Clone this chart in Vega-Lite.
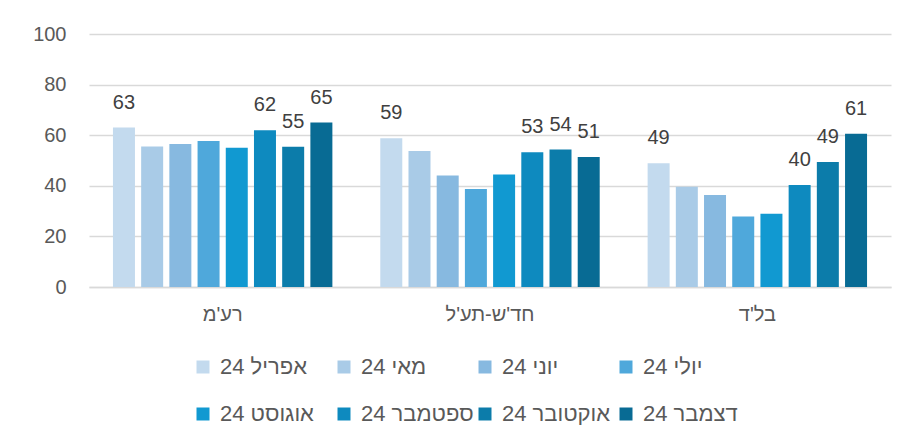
{
  "$schema": "https://vega.github.io/schema/vega-lite/v6.json",
  "width": 802,
  "height": 253,
  "autosize": "none",
  "padding": {"left": 89, "top": 34, "right": 21, "bottom": 158},
  "background": "white",
  "config": {
    "font": "Liberation Sans",
    "view": {"stroke": null},
    "axis": {"labelFont": "Liberation Sans", "labelColor": "#595959", "labelFontSize": 20}
  },
  "data": {
    "values": [
      {"party": "רע'מ", "month": "24 אפריל", "value": 63, "lbl": 63},
      {"party": "רע'מ", "month": "24 מאי", "value": 55.5, "lbl": null},
      {"party": "רע'מ", "month": "24 יוני", "value": 56.5, "lbl": null},
      {"party": "רע'מ", "month": "24 יולי", "value": 57.7, "lbl": null},
      {"party": "רע'מ", "month": "24 אוגוסט", "value": 55, "lbl": null},
      {"party": "רע'מ", "month": "24 ספטמבר", "value": 62, "lbl": 62},
      {"party": "רע'מ", "month": "24 אוקטובר", "value": 55.4, "lbl": 55},
      {"party": "רע'מ", "month": "24 דצמבר", "value": 65, "lbl": 65},
      {"party": "חד'ש-תע'ל", "month": "24 אפריל", "value": 58.8, "lbl": 59},
      {"party": "חד'ש-תע'ל", "month": "24 מאי", "value": 53.8, "lbl": null},
      {"party": "חד'ש-תע'ל", "month": "24 יוני", "value": 44.1, "lbl": null},
      {"party": "חד'ש-תע'ל", "month": "24 יולי", "value": 38.7, "lbl": null},
      {"party": "חד'ש-תע'ל", "month": "24 אוגוסט", "value": 44.5, "lbl": null},
      {"party": "חד'ש-תע'ל", "month": "24 ספטמבר", "value": 53.3, "lbl": 53},
      {"party": "חד'ש-תע'ל", "month": "24 אוקטובר", "value": 54.3, "lbl": 54},
      {"party": "חד'ש-תע'ל", "month": "24 דצמבר", "value": 51.4, "lbl": 51},
      {"party": "בל'ד", "month": "24 אפריל", "value": 48.9, "lbl": 49},
      {"party": "בל'ד", "month": "24 מאי", "value": 39.6, "lbl": null},
      {"party": "בל'ד", "month": "24 יוני", "value": 36.4, "lbl": null},
      {"party": "בל'ד", "month": "24 יולי", "value": 27.9, "lbl": null},
      {"party": "בל'ד", "month": "24 אוגוסט", "value": 29, "lbl": null},
      {"party": "בל'ד", "month": "24 ספטמבר", "value": 40.3, "lbl": 40},
      {"party": "בל'ד", "month": "24 אוקטובר", "value": 49.4, "lbl": 49},
      {"party": "בל'ד", "month": "24 דצמבר", "value": 60.6, "lbl": 61}
    ]
  },
  "encoding": {
    "x": {
      "field": "party",
      "type": "nominal",
      "sort": ["רע'מ", "חד'ש-תע'ל", "בל'ד"],
      "scale": {"paddingInner": 0.156, "paddingOuter": 0.078},
      "axis": {"title": null, "labelAngle": 0, "ticks": false, "domain": true, "domainColor": "#d9d9d9", "domainWidth": 1.5, "labelPadding": 17}
    },
    "xOffset": {
      "field": "month",
      "type": "nominal",
      "sort": ["24 אפריל", "24 מאי", "24 יוני", "24 יולי", "24 אוגוסט", "24 ספטמבר", "24 אוקטובר", "24 דצמבר"],
      "scale": {"paddingInner": 0.22, "paddingOuter": 0.11}
    },
    "y": {
      "field": "value",
      "type": "quantitative",
      "scale": {"domain": [0, 100], "nice": false},
      "axis": {"title": null, "values": [0, 20, 40, 60, 80, 100], "domain": false, "ticks": false, "gridColor": "#d9d9d9", "gridWidth": 1.5, "labelPadding": 23}
    }
  },
  "layer": [
    {
      "mark": {"type": "bar"},
      "encoding": {
        "color": {
          "field": "month",
          "type": "nominal",
          "sort": ["24 אפריל", "24 מאי", "24 יוני", "24 יולי", "24 אוגוסט", "24 ספטמבר", "24 אוקטובר", "24 דצמבר"],
          "scale": {
            "domain": ["24 אפריל", "24 מאי", "24 יוני", "24 יולי", "24 אוגוסט", "24 ספטמבר", "24 אוקטובר", "24 דצמבר"],
            "range": ["#C3DAEE", "#A9CBE7", "#87B9E0", "#4FA8DB", "#1199D1", "#0E8ABF", "#0C7CAA", "#086B94"]
          },
          "legend": {
            "title": null,
            "orient": "none",
            "legendX": 103,
            "legendY": 322,
            "direction": "horizontal",
            "columns": 4,
            "gridAlign": "all",
            "columnPadding": -1,
            "rowPadding": 25,
            "symbolType": "square",
            "symbolSize": 169,
            "symbolStrokeWidth": 0,
            "labelFontSize": 22,
            "labelColor": "#595959",
            "labelFont": "Liberation Sans",
            "labelOffset": 6,
            "labelLimit": 300
          }
        }
      }
    },
    {
      "transform": [{"filter": "datum.lbl != null"}],
      "mark": {"type": "text", "baseline": "middle", "dy": -25, "fontSize": 20, "color": "#404040", "font": "Liberation Sans"},
      "encoding": {
        "text": {"field": "lbl", "type": "quantitative"}
      }
    }
  ]
}
